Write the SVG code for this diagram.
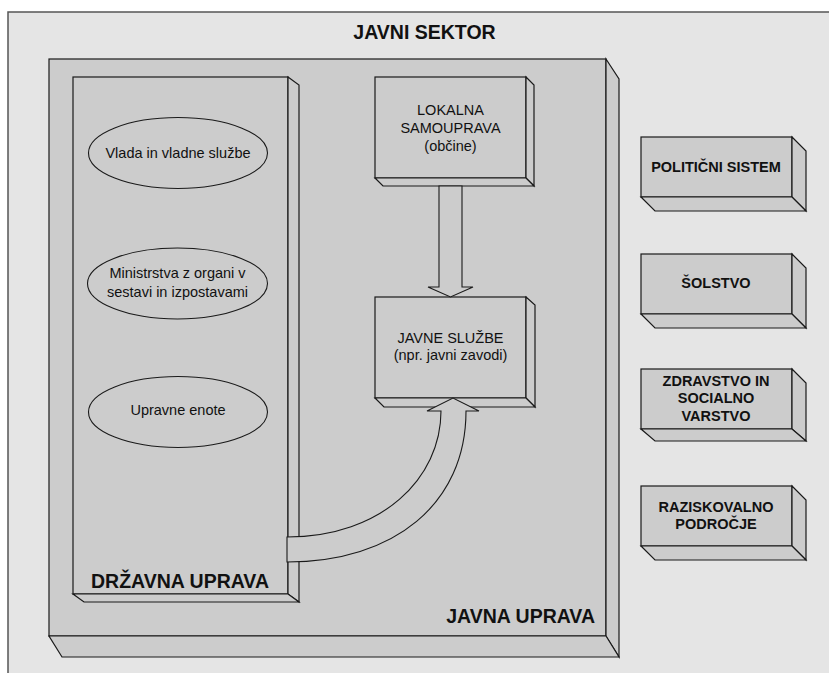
<svg xmlns="http://www.w3.org/2000/svg" width="829" height="673" viewBox="0 0 829 673">
  <style>
    .face { fill: #cccccc; stroke: #1a1a1a; stroke-width: 1.2; stroke-linejoin: miter; }
    .oval { fill: #cccccc; stroke: #1a1a1a; stroke-width: 1.1; }
    .arrow { fill: #cccccc; stroke: #1a1a1a; stroke-width: 1.1; stroke-linejoin: miter; }
    .txt { font-family: "Liberation Sans", Arial, sans-serif; font-size: 14.5px; fill: #111; text-anchor: middle; }
    .bold { font-family: "Liberation Sans", Arial, sans-serif; font-weight: bold; font-size: 14.5px; fill: #111; text-anchor: middle; }
    .big { font-family: "Liberation Sans", Arial, sans-serif; font-weight: bold; font-size: 19.5px; fill: #111; }
  </style>

  <rect x="0" y="0" width="829" height="673" fill="#ffffff"/>

  <!-- outer frame: public sector -->
  <g id="javni-sektor">
    <rect x="8" y="12" width="830" height="680" fill="#e5e5e5" stroke="#555" stroke-width="1.5"/>
    <text class="big" x="424.5" y="39" text-anchor="middle">JAVNI SEKTOR</text>
  </g>

  <!-- public administration block -->
  <g id="javna-uprava">
    <rect class="face" x="49" y="59" width="557" height="577"/>
    <polygon class="face" points="606,59 619,79 619,657 606,636"/>
    <polygon class="face" points="49,636 606,636 619,657 62,657"/>
    <text class="big" x="595" y="623" text-anchor="end">JAVNA UPRAVA</text>
  </g>

  <!-- state administration column -->
  <g id="drzavna-uprava">
    <rect class="face" x="73" y="77" width="215" height="517"/>
    <polygon class="face" points="288,77 299,85 299,602 288,594"/>
    <polygon class="face" points="73,594 288,594 299,602 84,602"/>
    <text class="big" x="180" y="588" text-anchor="middle">DRŽAVNA UPRAVA</text>
  </g>

  <g id="vlada">
    <ellipse class="oval" cx="178" cy="153" rx="89.5" ry="35.5"/>
    <text class="txt" x="178" y="158">Vlada in vladne službe</text>
  </g>

  <g id="ministrstva">
    <ellipse class="oval" cx="177.5" cy="283.5" rx="90" ry="35.5"/>
    <text class="txt" x="177.5" y="278">Ministrstva z organi v</text>
    <text class="txt" x="177.5" y="297">sestavi in izpostavami</text>
  </g>

  <g id="upravne-enote">
    <ellipse class="oval" cx="178" cy="412" rx="89.5" ry="35.5"/>
    <text class="txt" x="178" y="415">Upravne enote</text>
  </g>

  <!-- local self-government -->
  <g id="lokalna-samouprava">
    <rect class="face" x="375" y="77" width="151" height="101"/>
    <polygon class="face" points="526,77 534,85 534,186 526,178"/>
    <polygon class="face" points="375,178 526,178 534,186 383,186"/>
    <text class="txt" x="450.5" y="115">LOKALNA</text>
    <text class="txt" x="450.5" y="133">SAMOUPRAVA</text>
    <text class="txt" x="450.5" y="151">(občine)</text>
  </g>

  <!-- public services -->
  <g id="javne-sluzbe">
    <rect class="face" x="375" y="297" width="151" height="101"/>
    <polygon class="face" points="526,297 535,305 535,407 526,398"/>
    <polygon class="face" points="375,398 526,398 535,407 384,407"/>
    <text class="txt" x="450.5" y="343">JAVNE SLUŽBE</text>
    <text class="txt" x="450.5" y="360">(npr. javni zavodi)</text>
  </g>

  <!-- other sectors -->
  <g id="politicni-sistem">
    <rect class="face" x="641" y="137" width="151" height="60"/>
    <polygon class="face" points="792,137 806,151 806,211 792,197"/>
    <polygon class="face" points="641,197 792,197 806,211 655,211"/>
    <text class="bold" x="716" y="172">POLITIČNI SISTEM</text>
  </g>

  <g id="solstvo">
    <rect class="face" x="641" y="254" width="151" height="60"/>
    <polygon class="face" points="792,254 806,268 806,328 792,314"/>
    <polygon class="face" points="641,314 792,314 806,328 655,328"/>
    <text class="bold" x="716" y="288">ŠOLSTVO</text>
  </g>

  <g id="zdravstvo">
    <rect class="face" x="641" y="369" width="151" height="60"/>
    <polygon class="face" points="792,369 806,383 806,441 792,429"/>
    <polygon class="face" points="641,429 792,429 806,441 655,441"/>
    <text class="bold" x="716" y="386">ZDRAVSTVO IN</text>
    <text class="bold" x="716" y="403">SOCIALNO</text>
    <text class="bold" x="716" y="421">VARSTVO</text>
  </g>

  <g id="raziskovalno">
    <rect class="face" x="641" y="486" width="151" height="60"/>
    <polygon class="face" points="792,486 806,500 806,560 792,546"/>
    <polygon class="face" points="641,546 792,546 806,560 655,560"/>
    <text class="bold" x="716" y="512">RAZISKOVALNO</text>
    <text class="bold" x="716" y="529">PODROČJE</text>
  </g>

  <!-- block arrows -->
  <g id="connectors">
    <path class="arrow" d="M439,186 L462,186 L462,287 L473,287 L450.5,297 L428,287 L439,287 Z"/>
    <path class="arrow" d="M287,537 C382,537 441,478 441,411 L427,411 L453,398 L479,411 L466,411 C466,504 394,562 287,562 Z"/>
  </g>
</svg>
